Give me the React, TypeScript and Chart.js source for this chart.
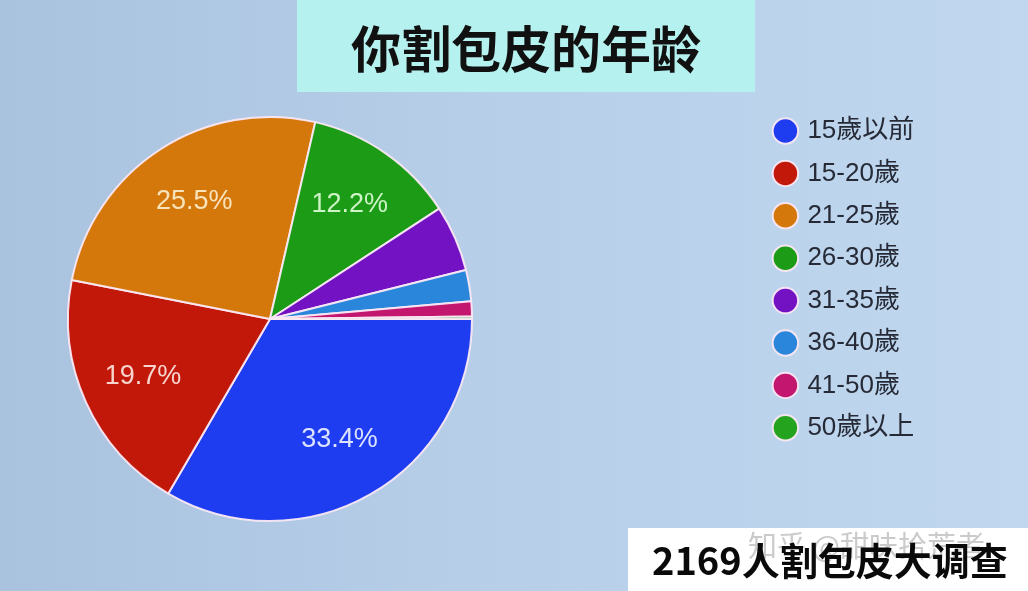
import React, { useEffect, useRef } from "react";
import { Chart, registerables } from "chart.js";

Chart.register(...registerables);

const titleText = "你割包皮的年龄";
const footerText = "2169人割包皮大调查";
const watermarkText = "知乎 @甜味拾荒者";

const categories = ["15歲以前", "15-20歲", "21-25歲", "26-30歲", "31-35歲", "36-40歲", "41-50歲", "50歲以上"];
const shares = [33.4, 19.7, 25.5, 12.2, 5.3, 2.5, 1.2, 0.2];
const sliceColors = ["#1e3cf0", "#c2180a", "#d5780c", "#1c9c16", "#7212c2", "#2a86da", "#c2166f", "#24a41e"];
const labelColors = ["#dce3ff", "#f7d4cd", "#f8e3ba", "#cdf3c6", "#ffffff", "#ffffff", "#ffffff", "#ffffff"];

const PIE_AREA = { left: 67, top: 116, right: 473, bottom: 522 };
const LEGEND_POS = { left: 760, top: 101.6 };

const placementPlugin = {
  id: "placement",
  afterLayout(chart: any) {
    const a = PIE_AREA;
    chart.chartArea = {
      left: a.left,
      top: a.top,
      right: a.right,
      bottom: a.bottom,
      width: a.right - a.left,
      height: a.bottom - a.top,
    };
    const lg = chart.legend;
    if (lg) {
      const w = lg.width;
      const h = lg.height;
      lg.left = LEGEND_POS.left;
      lg.right = LEGEND_POS.left + w;
      lg.top = LEGEND_POS.top;
      lg.bottom = LEGEND_POS.top + h;
    }
  },
};

const percentPlugin = {
  id: "percentLabels",
  afterDatasetsDraw(chart: any) {
    const meta = chart.getDatasetMeta(0);
    const ctx = chart.ctx;
    ctx.save();
    ctx.font = "27px 'Liberation Sans', Arial, sans-serif";
    ctx.textAlign = "center";
    ctx.textBaseline = "middle";
    meta.data.forEach((arc: any, i: number) => {
      const v = shares[i];
      if (v < 10) return;
      const { x, y, startAngle, endAngle, outerRadius } = arc.getProps(
        ["x", "y", "startAngle", "endAngle", "outerRadius"],
        true
      );
      const mid = (startAngle + endAngle) / 2;
      const r = outerRadius * 0.69;
      ctx.fillStyle = labelColors[i];
      ctx.fillText(v.toFixed(1) + "%", x + Math.cos(mid) * r, y + Math.sin(mid) * r);
    });
    ctx.restore();
  },
};

export default function App() {
  const canvasRef = useRef<HTMLCanvasElement | null>(null);

  useEffect(() => {
    if (!canvasRef.current) return;
    const chart = new Chart(canvasRef.current, {
      type: "pie",
      data: {
        labels: categories,
        datasets: [
          {
            data: shares,
            backgroundColor: sliceColors,
            borderColor: "rgba(250,232,244,0.95)",
            borderWidth: 2,
            clip: false as any,
          },
        ],
      },
      options: {
        responsive: false,
        animation: false,
        rotation: 90,
        layout: { padding: 0 },
        plugins: {
          legend: {
            display: true,
            position: "right",
            align: "start",
            labels: {
              usePointStyle: true,
              pointStyle: "circle",
              boxWidth: 18,
              boxHeight: 18,
              padding: 16.4,
              color: "#262a36",
              font: { size: 26, family: "'Liberation Sans', Arial, 'Noto Sans CJK TC', sans-serif" },
            },
          },
          tooltip: { enabled: false },
          title: { display: false },
        },
      },
      plugins: [placementPlugin, percentPlugin],
    });
    return () => chart.destroy();
  }, []);

  return (
    <div
      style={{
        position: "absolute",
        left: 0,
        top: 0,
        width: 1028,
        height: 591,
        overflow: "hidden",
        background: "linear-gradient(90deg, #a9c2de 0%, #b6cee8 45%, #c0d7ef 100%)",
      }}
    >
      <canvas
        ref={canvasRef}
        width={1028}
        height={591}
        style={{ position: "absolute", left: 0, top: 0, width: 1028, height: 591 }}
      />
      <div
        style={{
          position: "absolute",
          left: 297,
          top: 0,
          width: 458,
          height: 92,
          background: "#b5f1ee",
          display: "flex",
          alignItems: "center",
          justifyContent: "center",
          fontFamily: "'Noto Sans CJK SC', sans-serif",
          fontWeight: 700,
          fontSize: 50,
          color: "#111",
          lineHeight: 1,
        }}
      >
        {titleText}
      </div>
      <div
        style={{
          position: "absolute",
          left: 628,
          top: 528,
          width: 400,
          height: 63,
          background: "#ffffff",
        }}
      >
        <div
          style={{
            position: "absolute",
            left: 120,
            top: 2,
            fontFamily: "'Noto Sans CJK SC', sans-serif",
            fontSize: 29,
            color: "rgba(185,185,185,0.75)",
            whiteSpace: "nowrap",
            lineHeight: 1,
          }}
        >
          {watermarkText}
        </div>
        <div
          style={{
            position: "absolute",
            left: 24,
            top: 10,
            fontFamily: "'Noto Sans CJK SC', sans-serif",
            fontWeight: 700,
            fontSize: 38,
            color: "#0a0a0a",
            whiteSpace: "nowrap",
            lineHeight: 1.1,
          }}
        >
          {footerText}
        </div>
      </div>
    </div>
  );
}
